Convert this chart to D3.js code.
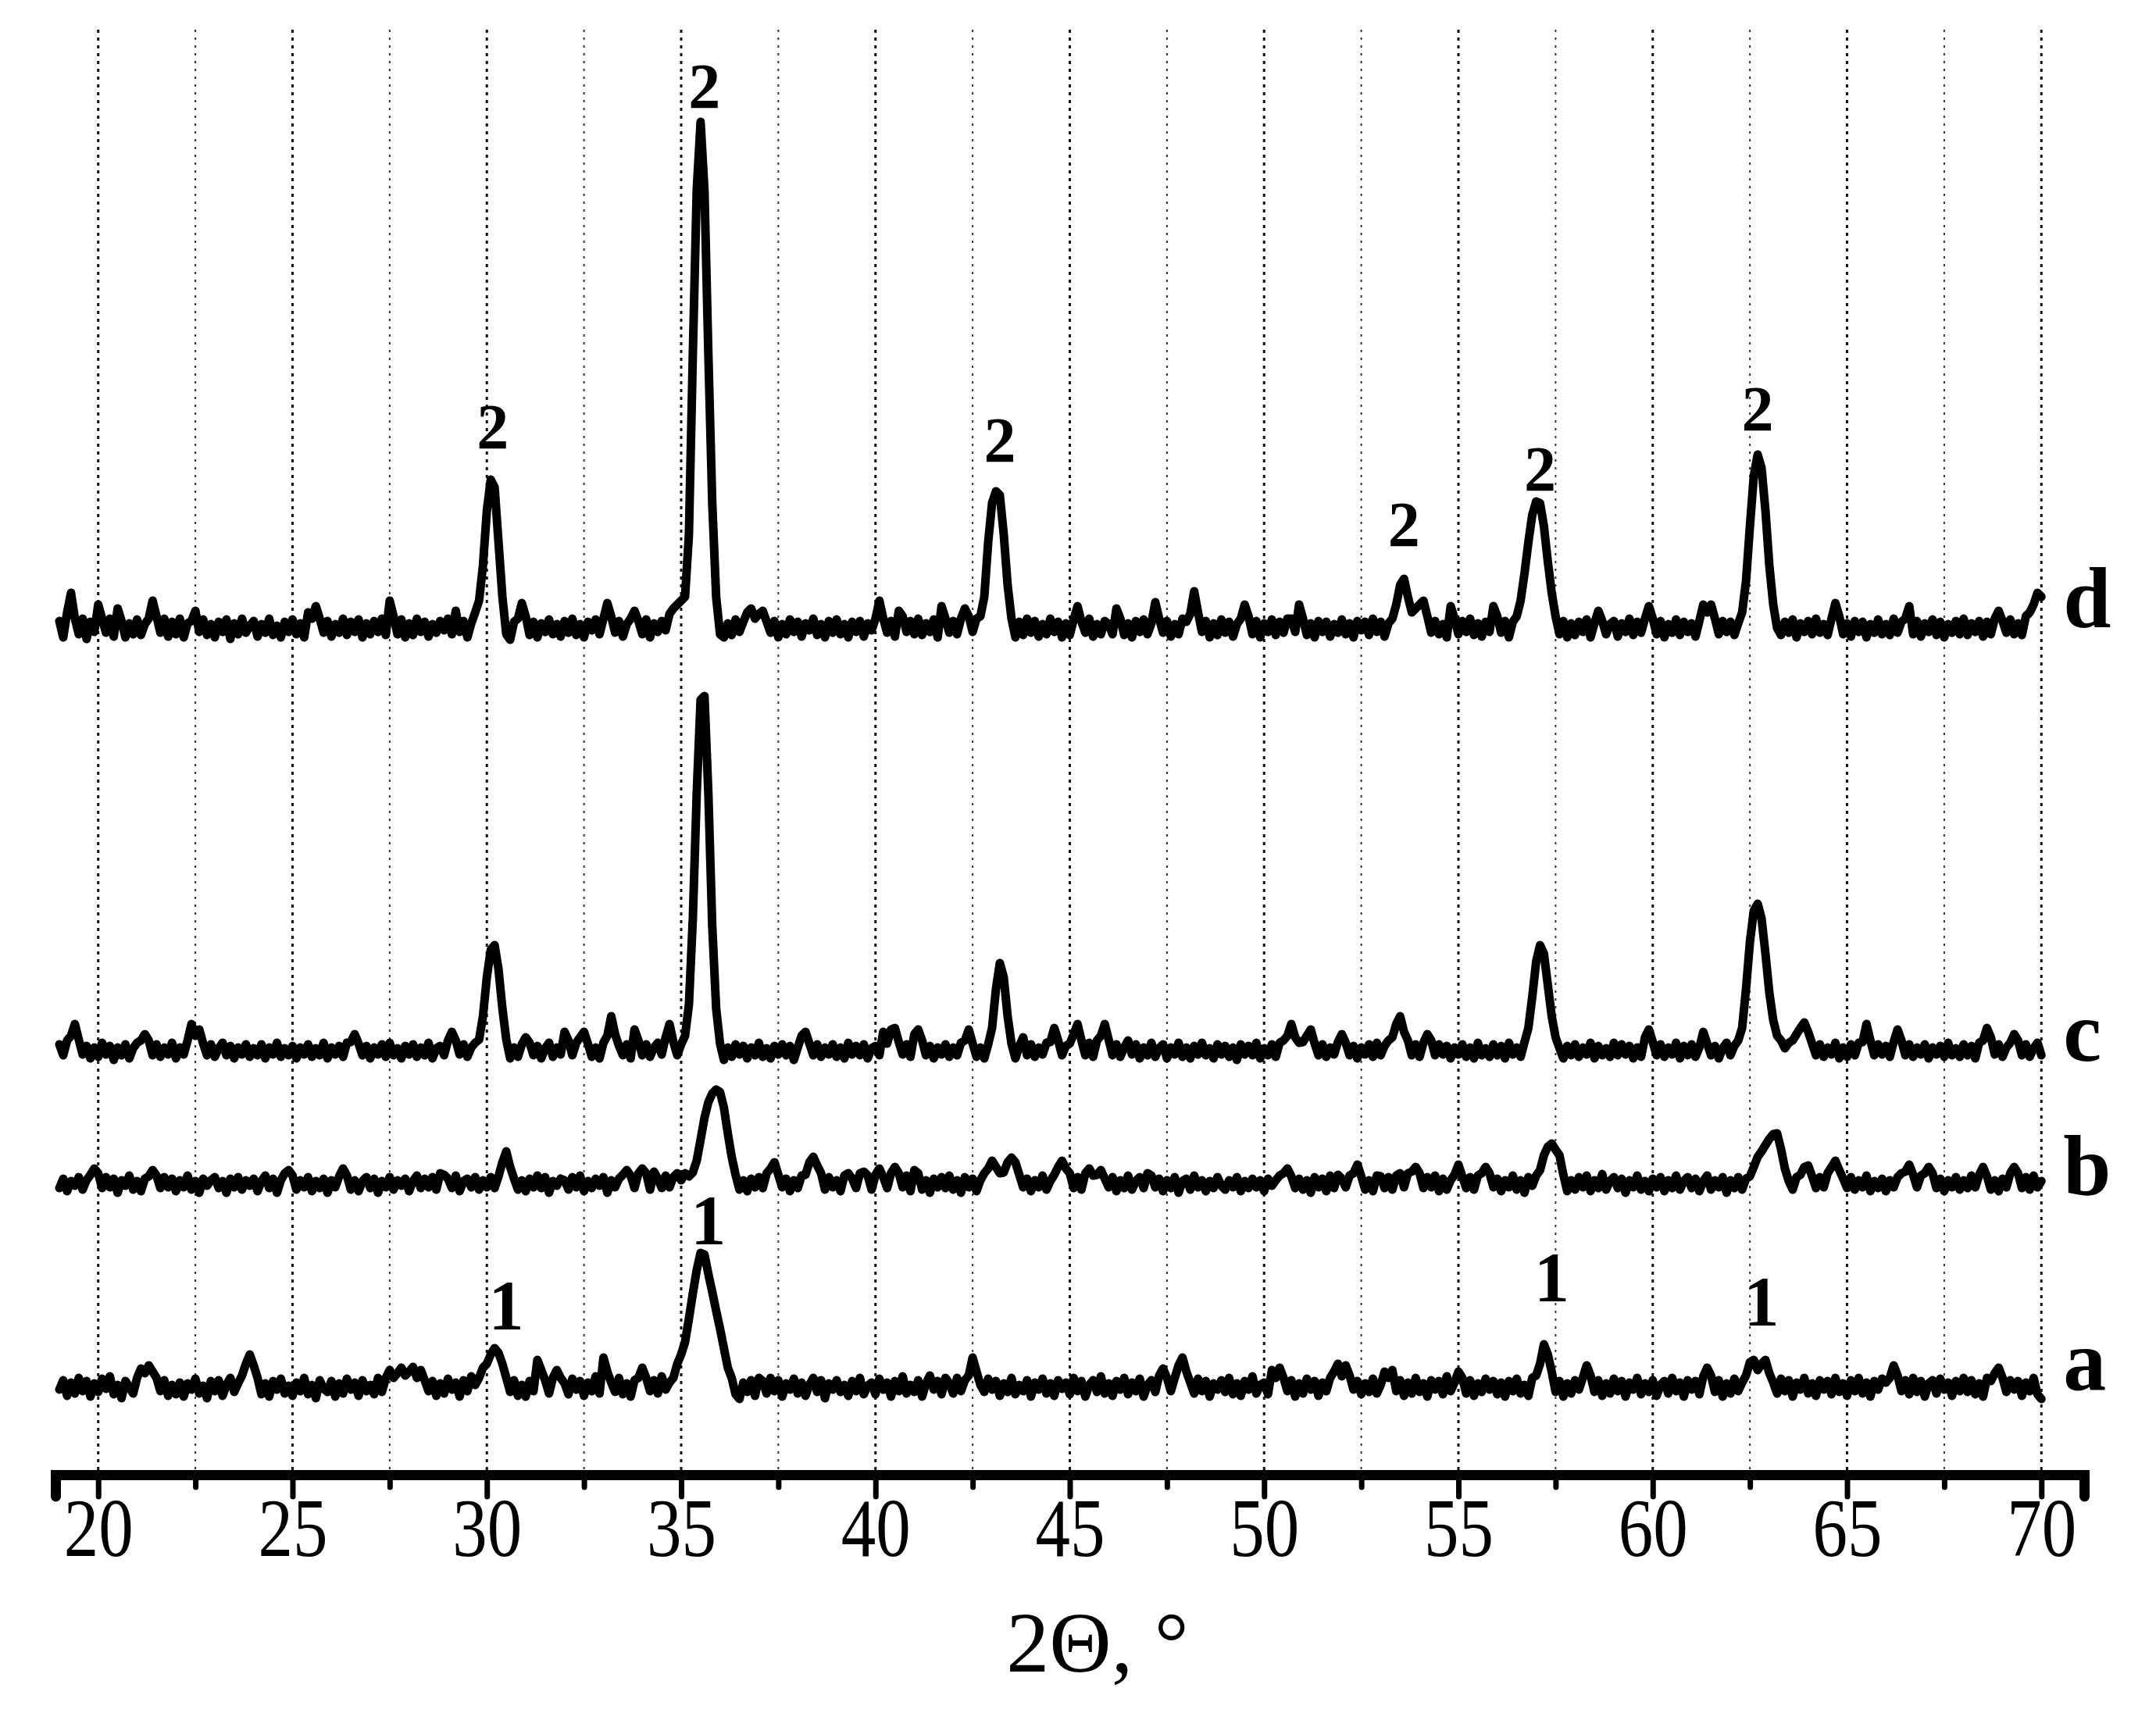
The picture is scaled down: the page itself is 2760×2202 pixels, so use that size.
<!DOCTYPE html>
<html><head><meta charset="utf-8">
<script src="https://cdn.jsdelivr.net/npm/d3@7"></script>
<style>html,body{margin:0;padding:0;background:#fff}svg{display:block}</style>
</head><body>
<svg id="chart" width="2760" height="2202"></svg>
<script>
// ---------- DATA ----------
const xStart = 19.0;          // first sample, degrees 2Θ
const xStep = 0.1;            // sample step, degrees
const seriesNames = ["a", "b", "c", "d"];
const seriesOffsets = [112, 372, 542, 1084];   // vertical stacking offsets (a.u.)

const traceA = [
-3,9,-11,6,-8,12,-5,8,-12,5,
-6,11,-2,14,-9,3,-14,8,0,-8,
12,24,18,28,20,12,-5,9,-11,3,
-9,6,-12,5,-3,11,-8,2,-14,8,
-5,9,-11,3,12,-6,5,15,30,42,
28,12,-9,5,-12,8,-3,11,-8,2,
-11,6,-5,12,-9,3,-14,9,-2,-6,
8,-12,5,-8,11,-3,6,-11,9,-5,
3,-9,12,-6,12,22,12,18,25,15,
20,26,12,22,9,-5,8,-11,5,-8,
11,-3,6,-12,9,-5,14,3,12,25,
30,42,50,44,30,12,-6,9,-11,3,
-12,8,-5,35,22,9,-8,12,22,12,
5,-9,11,-3,8,-11,6,-5,14,-8,
38,20,6,-6,12,-9,5,-12,9,12,
25,12,-5,9,-8,14,-3,6,12,30,
42,58,88,120,150,172,170,145,122,98,
75,50,25,12,-9,-15,6,-6,9,-11,
12,8,-8,12,-5,9,-12,5,-3,11,
-8,6,-11,3,12,-6,9,-14,5,-3,
9,-6,3,-11,8,-5,12,-9,2,6,
-9,11,-3,6,-12,8,-5,14,-8,3,
-6,9,-12,5,15,-3,8,-9,12,5,
-8,12,-5,9,15,38,20,3,-6,11,
-3,8,-11,5,-6,12,-9,3,-5,9,
-12,6,-3,11,-8,5,-11,9,-2,6,
-9,12,-5,8,-12,3,9,-6,14,-8,
5,-11,8,-3,12,-9,6,-5,11,-12,
3,9,-6,15,24,12,-5,12,28,38,
20,6,-8,11,-5,8,-12,5,-3,9,
-6,12,-9,5,-11,8,-3,14,-8,3,
6,-9,22,12,25,12,-5,9,-12,5,
-8,11,-3,8,-11,6,-5,12,20,30,
14,28,15,-3,8,-9,5,-6,11,-8,
3,20,12,22,-5,9,-11,6,-8,12,
-6,5,-12,9,-3,8,-9,14,-5,6,
20,12,-8,9,-11,5,-6,11,-3,8,
-9,6,-12,8,-5,11,-8,3,-11,12,
15,30,55,42,20,-6,8,-12,5,-8,
9,-3,12,28,15,-6,9,-11,5,-8,
11,-5,8,-12,6,-3,12,-9,5,-6,
9,-11,3,8,-8,12,-5,6,-12,9,
-3,8,-9,14,25,15,-6,9,-12,5,
-8,11,-5,6,15,32,35,22,30,35,
18,6,-8,11,-5,9,-12,6,-3,12,
-8,5,-11,9,-3,8,-9,12,-6,5,
-11,9,-5,12,-8,6,-12,8,-3,11,
6,12,28,15,-5,9,-9,12,-6,8,
-12,5,9,-8,11,-3,6,-11,8,-5,
12,-6,9,-9,5,-12,12,8,18,25,
12,-6,9,-3,8,-11,6,-5,12,-9,
-15];

const traceB = [
-5,7,-9,4,-2,9,-7,5,12,20,
14,-5,9,-4,7,-11,5,-2,11,-7,
4,-9,7,10,18,11,-5,9,-4,7,
-9,5,-4,11,-7,4,-11,7,-2,5,
9,-5,4,-11,7,-4,9,-7,5,-2,
7,-9,4,11,-5,7,-11,5,14,18,
11,-7,5,-4,9,-9,4,-5,7,-11,
5,-4,10,20,11,-7,5,-9,4,9,
-5,7,-11,4,-4,9,-7,5,-2,7,
-9,4,11,-5,7,-4,9,-7,14,12,
7,-5,11,-9,4,7,-4,9,-7,5,
-4,9,-5,10,28,42,22,7,-7,5,
-9,7,-4,11,-5,9,-11,4,-2,7,
5,-7,9,-4,11,-9,4,-5,7,-2,
9,-11,5,-4,7,12,18,11,-5,14,
20,14,-7,16,7,-5,11,-4,9,14,
5,14,10,15,30,57,85,105,116,121,
118,98,65,35,12,-7,5,-9,7,-4,
9,-5,14,20,28,12,-4,7,-9,5,
-5,11,12,28,35,24,14,-7,9,-4,
5,-9,11,14,7,-5,14,16,11,-7,
12,20,9,-5,14,22,14,-4,11,-9,
18,14,-7,5,-11,7,-4,9,-5,11,
-7,5,-11,9,-4,7,-9,5,14,20,
30,22,14,15,28,34,28,12,-4,7,
-9,5,-4,11,-7,4,12,22,30,20,
14,-5,9,-7,14,20,11,12,18,7,
-4,9,-9,5,-5,11,-7,4,9,-5,
14,11,-4,7,-9,5,-5,9,-11,4,
7,-7,11,-4,5,-9,4,-5,9,-2,
-7,5,-4,9,-9,4,-5,7,-4,5,
-9,7,-2,5,11,14,20,10,-5,7,
-7,5,-11,9,-4,7,-9,11,-5,12,
7,-4,11,14,25,10,-7,5,-9,11,
10,-5,9,-7,11,14,-4,14,16,22,
14,-5,9,-4,11,-9,7,-7,5,12,
25,10,-5,9,-7,11,14,22,14,-4,
7,-9,5,-4,11,-7,5,-11,9,-2,
11,18,37,48,52,44,37,12,-9,5,
-7,9,-4,11,-9,5,-5,13,-7,4,
9,-5,7,-11,5,-4,11,-7,4,-9,
7,-4,9,-9,5,-5,11,-7,4,9,
-5,7,-9,4,11,-7,5,-4,9,-11,
5,-5,9,-7,7,10,22,35,42,50,
58,64,65,45,20,4,-7,9,12,22,
24,10,-5,9,-4,14,22,30,18,7,
-5,9,-7,5,-4,11,-9,4,-5,7,
-9,5,-4,9,14,16,25,12,-4,11,
14,22,14,-5,7,-9,5,-4,9,-7,
5,-5,11,-4,12,22,10,-7,5,-9,
7,-4,14,22,14,-5,9,-7,11,-4,
4];

const traceC = [
9,-5,14,20,35,15,-4,7,-9,5,
-7,11,-4,7,-11,5,-5,9,-9,4,
11,14,22,14,-5,9,-7,5,-4,11,
-9,5,-4,14,35,20,28,10,-5,9,
-7,4,11,-5,7,-9,5,-4,9,-7,
4,-5,9,-9,5,-4,11,-7,4,-5,
7,-9,5,-4,9,-7,4,-5,11,-9,
5,-4,7,-7,11,12,22,10,-5,7,
-9,5,-4,9,-7,11,-5,4,-9,7,
-4,9,-7,5,-5,11,-9,4,7,-5,
14,25,14,-4,9,-7,5,11,15,45,
95,130,136,105,55,15,-9,5,-7,9,
18,11,-5,7,-9,4,11,-7,5,-4,
25,14,-5,11,18,25,10,-7,5,-9,
11,20,45,22,7,-5,9,-9,28,14,
-5,9,-7,5,11,-4,18,35,12,-5,
9,20,60,170,330,450,455,330,160,55,
10,-11,5,-7,9,-4,7,-9,5,-5,
11,-7,4,-9,7,-4,9,-5,7,-11,
5,20,25,10,-5,9,-7,5,-4,9,
-7,5,-9,11,-4,7,-5,9,-9,4,
7,-5,25,10,28,30,12,-4,9,-7,
22,28,14,-5,7,-9,5,-4,9,-7,
5,-5,11,14,28,10,-7,5,-9,9,
30,80,113,95,45,10,-9,7,18,-5,
9,-7,5,-4,11,12,30,14,-5,7,
10,22,35,14,-5,11,-7,14,20,35,
15,-5,9,-7,5,14,-4,9,-9,5,
-5,11,-7,4,9,-9,5,-4,11,-7,
5,-9,7,-4,11,-5,4,-9,9,-4,
7,-7,5,-11,9,-4,7,-5,11,-9,
4,-5,9,-7,11,14,20,35,18,11,
12,20,28,10,-5,9,-7,5,-4,12,
22,11,-5,7,-9,5,-4,9,-7,11,
-5,7,14,18,35,45,25,14,-5,9,
-7,11,22,14,-5,9,-4,7,-9,5,
-4,9,-7,5,-9,11,-5,4,-7,9,
-5,7,-9,11,-4,5,-7,12,30,70,
115,136,125,85,45,18,4,-9,7,-5,
9,-7,5,-4,11,-9,7,-5,4,-7,
11,-5,9,-4,7,-9,5,-7,18,28,
12,-5,9,-7,5,-4,11,-9,7,-5,
9,-7,5,25,10,-5,7,-9,4,11,
-5,7,14,30,80,140,180,189,170,125,
75,40,20,14,4,11,14,22,30,37,
25,10,-5,9,-7,5,-4,11,-9,5,
-7,9,-5,11,12,35,14,-5,9,-4,
7,-7,12,28,14,-5,9,-7,5,-4,
9,-9,5,-4,7,-7,11,-5,4,-7,
9,-5,7,-9,11,14,30,18,-4,9,
-7,5,11,22,14,-5,9,-7,4,11,
-5];

const traceD = [
9,-12,20,45,12,-8,12,-14,8,-5,
30,12,-6,12,-11,25,9,-12,6,-8,
11,-9,5,12,35,15,-6,12,-11,8,
-8,12,-12,6,9,22,-5,11,-9,5,
-12,8,-5,11,-14,6,-8,12,-6,3,
9,-11,5,-6,12,-9,3,-12,8,-5,
11,-8,6,-12,20,12,28,12,-6,9,
-11,5,-6,12,-9,8,-5,11,-12,6,
-8,9,-5,12,-9,35,15,-8,11,-12,
6,-9,12,-5,8,-11,5,-6,9,-3,
12,-8,22,-5,9,-12,6,20,35,80,
150,190,180,110,40,-8,-15,8,12,32,
15,-9,8,-12,6,-5,11,-8,5,-11,
9,-6,12,-9,5,-12,8,-3,11,-8,
12,32,15,-6,9,-11,5,12,22,9,
-8,11,-12,6,-5,9,-3,18,25,30,
35,40,120,350,560,648,560,350,160,40,
-8,-12,6,-9,11,-5,8,20,25,12,
18,22,8,-6,9,-12,5,-8,11,-5,
8,-11,6,-3,12,-9,5,-12,9,-6,
11,-8,5,-12,8,-5,9,-11,6,-3,
12,35,12,-6,9,-11,22,15,-5,9,
-8,12,-9,6,-5,11,-12,28,12,-6,
9,-8,12,25,15,-5,12,15,40,110,
160,175,170,120,55,12,-12,8,-9,12,
-6,9,-11,5,-8,12,-5,8,-12,6,
-9,11,28,8,-6,12,-11,5,-8,9,
5,-8,25,12,-9,6,-12,9,-5,11,
-8,6,33,12,-6,9,-11,5,-8,12,
8,18,47,20,-5,9,-12,6,-9,11,
-6,8,-11,5,12,30,15,-8,9,-12,
6,-5,11,-9,8,-6,12,12,-5,30,
12,-9,6,-12,9,-5,8,-11,5,-6,
11,-8,6,-12,9,-3,8,-9,12,-5,
8,-11,6,12,30,55,63,40,20,25,
30,35,15,-6,9,-8,5,-12,28,12,
-8,9,-5,12,-9,6,-11,8,-5,28,
15,-6,9,-12,8,15,35,70,110,145,
162,160,130,85,45,15,-8,9,-12,6,
-9,8,-5,11,-12,6,22,9,-8,5,
9,-11,6,-5,12,-9,8,-6,12,28,
12,-8,9,-12,5,-6,11,-9,8,-5,
6,-11,9,30,20,30,12,-8,9,-5,
8,-9,6,20,60,130,195,222,205,150,
80,30,0,-9,8,-6,11,-12,6,-5,
9,-8,12,-6,5,-9,12,32,15,-8,
6,-11,9,-5,8,-12,5,-6,11,-8,
5,-9,12,-6,8,12,28,-8,9,-11,
6,-5,11,-9,8,-12,5,-6,9,-8,
12,-9,6,-5,9,-11,8,-8,12,22,
9,-6,11,-8,6,-9,15,20,30,45,
40];

const majorTicks = [20, 25, 30, 35, 40, 45, 50, 55, 60, 65, 70];
const minorTicks = [22.5, 27.5, 32.5, 37.5, 42.5, 47.5, 52.5, 57.5, 62.5, 67.5];
const tickLabels = ["20", "25", "30", "35", "40", "45", "50", "55", "60", "65", "70"];
const xAxisTitle = "2\u0398, \u00B0";

// phase reflection labels (x in degrees, y in a.u.)
const phase2Text = "2";
const phase2X = [30.15, 35.6, 43.2, 53.6, 57.1, 62.7];
const phase2Y = [1314, 1750, 1297, 1189, 1260, 1337];
const phase1Text = "1";
const phase1X = [30.5, 35.7, 57.4, 62.8];
const phase1Y = [186, 295, 222, 191];

// curve letters
const letterX = 70.56;
const letterY = [109, 358, 530, 1085];   // a, b, c, d

// ---------- DRAW ----------
const svg = d3.select("#chart");
const FONT = "'Liberation Serif','Times New Roman',Times,serif";
const axisY = 1888;
const gridTop = 38;

const x = d3.scaleLinear().domain([18.9, 71.1]).range([71, 2668]);
const y = d3.scaleLinear().domain([0, 1850]).range([axisY, axisY - 1850]);

// grid
const gGrid = svg.append("g");
gGrid.selectAll("line.major").data(majorTicks).join("line")
  .attr("x1", d => x(d)).attr("x2", d => x(d))
  .attr("y1", gridTop).attr("y2", axisY - 6)
  .attr("stroke", "#111").attr("stroke-width", 3).attr("stroke-dasharray", "4,6");
gGrid.selectAll("line.minor").data(minorTicks).join("line")
  .attr("x1", d => x(d)).attr("x2", d => x(d))
  .attr("y1", gridTop).attr("y2", axisY - 6)
  .attr("stroke", "#333").attr("stroke-width", 2).attr("stroke-dasharray", "3,7");

// traces
const traces = [traceA, traceB, traceC, traceD];
traces.forEach((tr, k) => {
  const line = d3.line()
    .x((d, i) => x(xStart + i * xStep))
    .y(d => y(d + seriesOffsets[k]));
  svg.append("path").datum(tr)
    .attr("d", line)
    .attr("fill", "none").attr("stroke", "#000")
    .attr("stroke-width", 11).attr("stroke-linejoin", "round").attr("stroke-linecap", "round");
});

// axis
const allTicks = majorTicks.concat(minorTicks).sort((a, b) => a - b);
const axis = d3.axisBottom(x).tickValues(allTicks).tickSizeOuter(0).tickSize(28).tickPadding(0)
  .tickFormat(d => { const i = majorTicks.indexOf(d); return i >= 0 ? tickLabels[i] : ""; });
const gAxis = svg.append("g").attr("transform", `translate(0,${axisY})`).call(axis)
  .attr("font-family", FONT).attr("font-size", 106);
gAxis.select(".domain").attr("stroke", "#000").attr("stroke-width", 13).attr("stroke-linecap", "round");
gAxis.selectAll(".tick line").attr("stroke", "#000").attr("stroke-width", 7).attr("stroke-linecap", "round")
  .attr("y2", d => majorTicks.includes(d) ? 28 : 16);
gAxis.selectAll(".tick text").attr("y", 104).attr("dy", 0).attr("fill", "#000")
  .attr("transform", "scale(0.84,1)");

svg.append("text").attr("x", 1405).attr("y", 2140).attr("text-anchor", "middle")
  .attr("font-family", FONT).attr("font-size", 110).attr("fill", "#000").text(xAxisTitle);

// peak labels
svg.selectAll("text.p2").data(phase2X).join("text")
  .attr("x", d => x(d)).attr("y", (d, i) => y(phase2Y[i]))
  .attr("text-anchor", "middle").attr("font-family", FONT).attr("font-weight", "bold")
  .attr("font-size", 82).attr("fill", "#000").text(phase2Text);
svg.selectAll("text.p1").data(phase1X).join("text")
  .attr("x", d => x(d)).attr("y", (d, i) => y(phase1Y[i]))
  .attr("text-anchor", "middle").attr("font-family", FONT).attr("font-weight", "bold")
  .attr("font-size", 90).attr("fill", "#000").text(phase1Text);

// curve letters
svg.selectAll("text.lt").data(seriesNames).join("text")
  .attr("x", x(letterX)).attr("y", (d, i) => y(letterY[i]))
  .attr("font-family", FONT).attr("font-weight", "bold")
  .attr("font-size", 110).attr("fill", "#000").text(d => d);
</script>
</body></html>
